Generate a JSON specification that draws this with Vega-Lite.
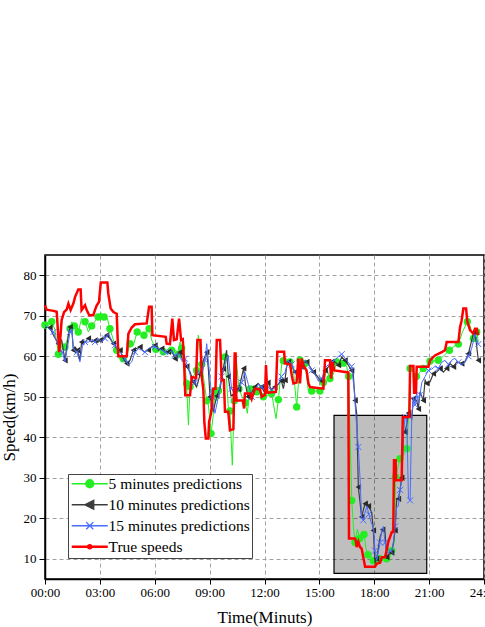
{
"$schema":"https://vega.github.io/schema/vega-lite/v6.json",
"width":439,"height":324,
"autosize":{"type":"none"},
"padding":{"left":45,"top":255,"right":1,"bottom":48},
"background":"white",
"config":{"view":{"stroke":"black","strokeWidth":1.5},"font":"Liberation Serif",
 "axis":{"labelFont":"Liberation Serif","titleFont":"Liberation Serif"},
 "legend":{"labelFont":"Liberation Serif","titleFont":"Liberation Serif"}},
"datasets":{
"T":[{"h":0,"v":72.6},{"h":0.09,"v":71.5},{"h":0.46,"v":71.2},{"h":0.64,"v":71.0},{"h":0.78,"v":61.0},{"h":0.91,"v":68.9},{"h":1.04,"v":70.9},{"h":1.19,"v":71.6},{"h":1.28,"v":73.0},{"h":1.40,"v":71.4},{"h":1.55,"v":73.0},{"h":1.64,"v":74.6},{"h":1.82,"v":76.5},{"h":1.95,"v":76.5},{"h":2.0,"v":71.4},{"h":2.19,"v":72.6},{"h":2.28,"v":71.4},{"h":2.42,"v":70.1},{"h":2.64,"v":70.1},{"h":2.73,"v":71.4},{"h":2.83,"v":72.6},{"h":2.95,"v":73.4},{"h":3.05,"v":78.2},{"h":3.41,"v":78.2},{"h":3.46,"v":75.5},{"h":3.59,"v":71.8},{"h":3.74,"v":70.9},{"h":3.92,"v":70.5},{"h":4.01,"v":60.0},{"h":4.47,"v":60.0},{"h":4.56,"v":65.6},{"h":4.74,"v":67.1},{"h":4.92,"v":67.9},{"h":5.56,"v":68.1},{"h":5.69,"v":72.2},{"h":5.83,"v":72.2},{"h":5.87,"v":65.2},{"h":6.60,"v":64.8},{"h":6.65,"v":63.1},{"h":6.83,"v":63.0},{"h":6.96,"v":69.3},{"h":7.05,"v":64.0},{"h":7.20,"v":64.2},{"h":7.33,"v":69.3},{"h":7.44,"v":64.0},{"h":7.53,"v":64.2},{"h":7.60,"v":59.0},{"h":7.67,"v":50.4},{"h":7.93,"v":50.4},{"h":8.02,"v":54.9},{"h":8.26,"v":54.6},{"h":8.33,"v":64.0},{"h":8.50,"v":64.0},{"h":8.57,"v":54.9},{"h":8.66,"v":51.6},{"h":8.71,"v":43.8},{"h":8.79,"v":39.7},{"h":8.93,"v":39.7},{"h":8.97,"v":43.8},{"h":9.08,"v":45.9},{"h":9.20,"v":52.0},{"h":9.32,"v":52.0},{"h":9.39,"v":64.0},{"h":9.57,"v":64.0},{"h":9.66,"v":54.1},{"h":9.78,"v":54.1},{"h":9.84,"v":46.3},{"h":10.02,"v":46.3},{"h":10.11,"v":41.7},{"h":10.30,"v":42.0},{"h":10.37,"v":60.7},{"h":10.42,"v":60.7},{"h":10.46,"v":49.1},{"h":10.83,"v":49.1},{"h":10.88,"v":47.1},{"h":10.93,"v":50.8},{"h":11.21,"v":50.8},{"h":11.30,"v":49.5},{"h":11.48,"v":52.0},{"h":11.75,"v":51.8},{"h":11.85,"v":50.0},{"h":12.03,"v":50.5},{"h":12.08,"v":57.8},{"h":12.15,"v":51.0},{"h":12.62,"v":51.2},{"h":12.70,"v":61.1},{"h":13.07,"v":61.1},{"h":13.12,"v":58.2},{"h":13.40,"v":58.0},{"h":13.49,"v":55.3},{"h":13.58,"v":53.3},{"h":13.75,"v":53.5},{"h":13.85,"v":59.4},{"h":13.94,"v":53.3},{"h":14.03,"v":59.4},{"h":14.12,"v":57.8},{"h":14.30,"v":56.5},{"h":14.40,"v":53.3},{"h":14.49,"v":52.4},{"h":15.22,"v":52.0},{"h":15.31,"v":59.0},{"h":15.58,"v":59.0},{"h":15.64,"v":54.5},{"h":15.73,"v":58.5},{"h":15.82,"v":56.5},{"h":16.58,"v":56.0},{"h":16.62,"v":15.0},{"h":16.95,"v":15.0},{"h":17.00,"v":14.2},{"h":17.04,"v":12.9},{"h":17.13,"v":14.2},{"h":17.22,"v":12.9},{"h":17.31,"v":12.5},{"h":17.40,"v":10.4},{"h":17.50,"v":8.0},{"h":18.04,"v":8.0},{"h":18.14,"v":8.8},{"h":18.32,"v":9.0},{"h":18.41,"v":10.4},{"h":18.59,"v":10.4},{"h":18.68,"v":12.1},{"h":18.77,"v":14.2},{"h":18.96,"v":16.6},{"h":19.04,"v":16.6},{"h":19.08,"v":34.3},{"h":19.17,"v":34.3},{"h":19.19,"v":29.4},{"h":19.50,"v":29.4},{"h":19.56,"v":45.0},{"h":19.92,"v":45.0},{"h":19.96,"v":57.6},{"h":20.14,"v":57.6},{"h":20.18,"v":51.0},{"h":20.28,"v":51.0},{"h":20.32,"v":57.4},{"h":20.96,"v":57.4},{"h":21.05,"v":59.0},{"h":21.32,"v":60.2},{"h":21.69,"v":61.0},{"h":21.87,"v":61.5},{"h":21.96,"v":63.5},{"h":22.60,"v":63.5},{"h":22.69,"v":67.2},{"h":22.78,"v":68.9},{"h":22.87,"v":71.8},{"h":23.02,"v":71.8},{"h":23.09,"v":68.5},{"h":23.24,"v":66.4},{"h":23.42,"v":65.6},{"h":23.51,"v":66.8},{"h":23.60,"v":66.8},{"h":23.69,"v":65.2}],
"G":[{"h":0,"v":67.7},{"h":0.18,"v":67.7},{"h":0.37,"v":68.5},{"h":0.55,"v":66.5},{"h":0.73,"v":60.5},{"h":0.91,"v":63.5},{"h":1.09,"v":62.3},{"h":1.28,"v":65.2},{"h":1.37,"v":66.8},{"h":1.46,"v":68.5},{"h":1.60,"v":67.5},{"h":1.73,"v":67.8},{"h":1.82,"v":66.0},{"h":2.00,"v":69.3},{"h":2.19,"v":68.5},{"h":2.37,"v":66.0},{"h":2.55,"v":67.5},{"h":2.73,"v":68.6},{"h":2.91,"v":69.7},{"h":3.05,"v":70.8},{"h":3.23,"v":69.7},{"h":3.41,"v":69.3},{"h":3.55,"v":66.8},{"h":3.74,"v":64.0},{"h":3.92,"v":61.5},{"h":4.06,"v":59.4},{"h":4.28,"v":59.4},{"h":4.47,"v":60.2},{"h":4.65,"v":63.1},{"h":4.83,"v":62.7},{"h":5.04,"v":66.0},{"h":5.22,"v":65.6},{"h":5.41,"v":65.2},{"h":5.56,"v":66.4},{"h":5.69,"v":66.8},{"h":5.83,"v":64.0},{"h":6.06,"v":61.7},{"h":6.24,"v":61.5},{"h":6.47,"v":61.1},{"h":6.74,"v":61.1},{"h":6.92,"v":61.5},{"h":7.11,"v":61.5},{"h":7.29,"v":60.5},{"h":7.38,"v":63.5},{"h":7.47,"v":62.0},{"h":7.65,"v":58.0},{"h":7.74,"v":53.3},{"h":7.84,"v":43.0},{"h":7.93,"v":52.5},{"h":8.11,"v":55.0},{"h":8.29,"v":56.5},{"h":8.38,"v":65.2},{"h":8.57,"v":58.0},{"h":8.75,"v":52.0},{"h":8.84,"v":49.0},{"h":8.93,"v":48.0},{"h":9.08,"v":40.9},{"h":9.20,"v":45.5},{"h":9.29,"v":51.5},{"h":9.39,"v":49.0},{"h":9.48,"v":51.5},{"h":9.66,"v":54.5},{"h":9.84,"v":59.8},{"h":10.02,"v":47.5},{"h":10.11,"v":46.5},{"h":10.24,"v":33.1},{"h":10.35,"v":49.0},{"h":10.44,"v":60.2},{"h":10.60,"v":52.0},{"h":10.81,"v":49.6},{"h":10.95,"v":48.5},{"h":11.06,"v":45.9},{"h":11.21,"v":51.9},{"h":11.39,"v":52.8},{"h":11.57,"v":51.2},{"h":11.67,"v":52.4},{"h":11.94,"v":50.0},{"h":12.12,"v":50.3},{"h":12.39,"v":50.8},{"h":12.63,"v":44.6},{"h":12.76,"v":49.3},{"h":12.94,"v":58.0},{"h":13.03,"v":58.9},{"h":13.21,"v":58.6},{"h":13.39,"v":58.6},{"h":13.58,"v":56.5},{"h":13.76,"v":47.5},{"h":13.85,"v":53.0},{"h":13.94,"v":59.0},{"h":14.12,"v":58.6},{"h":14.22,"v":58.2},{"h":14.40,"v":51.4},{"h":14.58,"v":51.4},{"h":14.76,"v":51.4},{"h":15.03,"v":51.4},{"h":15.13,"v":51.8},{"h":15.22,"v":53.5},{"h":15.40,"v":57.0},{"h":15.58,"v":54.5},{"h":15.76,"v":55.5},{"h":15.95,"v":58.6},{"h":16.13,"v":57.5},{"h":16.31,"v":58.3},{"h":16.49,"v":57.5},{"h":16.60,"v":55.0},{"h":16.68,"v":40.0},{"h":16.77,"v":24.4},{"h":16.86,"v":18.0},{"h":16.95,"v":14.0},{"h":17.08,"v":17.3},{"h":17.20,"v":15.0},{"h":17.31,"v":16.0},{"h":17.44,"v":16.0},{"h":17.55,"v":12.5},{"h":17.66,"v":11.0},{"h":17.77,"v":10.4},{"h":17.95,"v":9.5},{"h":18.13,"v":8.8},{"h":18.30,"v":10.0},{"h":18.50,"v":10.4},{"h":18.68,"v":10.0},{"h":18.83,"v":10.0},{"h":18.95,"v":12.0},{"h":19.10,"v":14.2},{"h":19.17,"v":30.2},{"h":19.28,"v":32.3},{"h":19.41,"v":34.7},{"h":19.59,"v":35.5},{"h":19.78,"v":37.2},{"h":19.87,"v":45.0},{"h":19.96,"v":57.0},{"h":20.14,"v":56.0},{"h":20.30,"v":55.0},{"h":20.50,"v":56.1},{"h":20.68,"v":57.0},{"h":20.87,"v":57.8},{"h":21.05,"v":58.8},{"h":21.23,"v":58.8},{"h":21.50,"v":59.0},{"h":21.78,"v":60.0},{"h":22.11,"v":61.5},{"h":22.42,"v":62.6},{"h":22.60,"v":63.0},{"h":22.82,"v":66.0},{"h":23.09,"v":68.5},{"h":23.24,"v":67.5},{"h":23.42,"v":64.4},{"h":23.51,"v":66.0},{"h":23.60,"v":66.0},{"h":23.69,"v":63.5}],
"D":[{"h":0,"v":67.1},{"h":0.27,"v":67.1},{"h":0.46,"v":65.2},{"h":0.73,"v":63.1},{"h":0.91,"v":64.0},{"h":1.09,"v":59.0},{"h":1.28,"v":65.2},{"h":1.37,"v":67.2},{"h":1.46,"v":67.2},{"h":1.55,"v":61.5},{"h":1.64,"v":62.3},{"h":1.77,"v":61.5},{"h":1.91,"v":59.0},{"h":2.00,"v":63.5},{"h":2.19,"v":63.5},{"h":2.37,"v":64.4},{"h":2.55,"v":63.5},{"h":2.73,"v":63.9},{"h":2.91,"v":63.5},{"h":3.01,"v":64.0},{"h":3.19,"v":64.4},{"h":3.37,"v":65.2},{"h":3.55,"v":64.4},{"h":3.74,"v":63.1},{"h":3.92,"v":61.9},{"h":4.10,"v":61.5},{"h":4.28,"v":59.4},{"h":4.47,"v":58.2},{"h":4.65,"v":59.0},{"h":4.83,"v":61.5},{"h":5.01,"v":61.9},{"h":5.19,"v":62.3},{"h":5.41,"v":61.1},{"h":5.65,"v":61.5},{"h":5.83,"v":62.3},{"h":6.01,"v":62.7},{"h":6.20,"v":61.5},{"h":6.38,"v":61.9},{"h":6.56,"v":61.1},{"h":6.74,"v":61.1},{"h":6.92,"v":61.5},{"h":7.11,"v":59.4},{"h":7.25,"v":60.5},{"h":7.38,"v":61.0},{"h":7.56,"v":58.6},{"h":7.75,"v":57.5},{"h":7.93,"v":56.1},{"h":8.11,"v":53.7},{"h":8.29,"v":52.4},{"h":8.48,"v":55.5},{"h":8.66,"v":59.0},{"h":8.84,"v":61.0},{"h":8.93,"v":57.0},{"h":9.02,"v":50.0},{"h":9.20,"v":46.3},{"h":9.39,"v":50.2},{"h":9.57,"v":52.0},{"h":9.75,"v":56.9},{"h":9.93,"v":61.5},{"h":10.02,"v":55.0},{"h":10.17,"v":50.2},{"h":10.30,"v":50.4},{"h":10.45,"v":51.5},{"h":10.58,"v":51.9},{"h":10.73,"v":54.5},{"h":10.86,"v":57.0},{"h":10.96,"v":53.0},{"h":11.10,"v":50.0},{"h":11.28,"v":50.8},{"h":11.46,"v":52.4},{"h":11.65,"v":53.3},{"h":11.83,"v":52.4},{"h":12.01,"v":51.0},{"h":12.19,"v":53.5},{"h":12.37,"v":51.8},{"h":12.56,"v":52.4},{"h":12.74,"v":53.0},{"h":12.92,"v":54.0},{"h":13.03,"v":52.0},{"h":13.12,"v":54.1},{"h":13.21,"v":57.4},{"h":13.31,"v":58.6},{"h":13.49,"v":57.8},{"h":13.67,"v":56.1},{"h":13.85,"v":55.3},{"h":14.03,"v":57.4},{"h":14.12,"v":58.6},{"h":14.31,"v":58.6},{"h":14.49,"v":57.4},{"h":14.67,"v":56.1},{"h":14.85,"v":55.3},{"h":15.04,"v":54.1},{"h":15.22,"v":54.5},{"h":15.31,"v":56.5},{"h":15.49,"v":57.4},{"h":15.67,"v":58.6},{"h":15.85,"v":58.6},{"h":16.04,"v":57.8},{"h":16.22,"v":59.8},{"h":16.40,"v":59.0},{"h":16.58,"v":57.8},{"h":16.76,"v":56.5},{"h":16.85,"v":55.7},{"h":16.95,"v":49.1},{"h":17.04,"v":45.9},{"h":17.13,"v":27.7},{"h":17.22,"v":24.0},{"h":17.31,"v":20.3},{"h":17.40,"v":22.0},{"h":17.50,"v":23.6},{"h":17.59,"v":24.0},{"h":17.68,"v":23.0},{"h":17.86,"v":21.5},{"h":17.95,"v":17.0},{"h":18.04,"v":8.8},{"h":18.13,"v":10.0},{"h":18.32,"v":15.4},{"h":18.46,"v":17.2},{"h":18.59,"v":16.5},{"h":18.68,"v":10.4},{"h":18.77,"v":11.0},{"h":18.95,"v":11.5},{"h":19.05,"v":14.0},{"h":19.14,"v":17.0},{"h":19.23,"v":24.8},{"h":19.32,"v":24.8},{"h":19.41,"v":27.0},{"h":19.50,"v":30.0},{"h":19.59,"v":40.9},{"h":19.68,"v":41.3},{"h":19.77,"v":43.0},{"h":19.87,"v":46.0},{"h":20.05,"v":44.6},{"h":20.14,"v":49.5},{"h":20.32,"v":49.1},{"h":20.41,"v":47.0},{"h":20.50,"v":51.2},{"h":20.68,"v":49.1},{"h":20.78,"v":54.1},{"h":20.87,"v":53.3},{"h":21.05,"v":53.7},{"h":21.23,"v":55.7},{"h":21.41,"v":56.1},{"h":21.60,"v":57.0},{"h":21.78,"v":56.1},{"h":21.96,"v":57.0},{"h":22.14,"v":58.2},{"h":22.33,"v":57.4},{"h":22.51,"v":58.6},{"h":22.78,"v":58.2},{"h":22.96,"v":58.6},{"h":23.15,"v":60.7},{"h":23.33,"v":64.0},{"h":23.45,"v":66.0},{"h":23.56,"v":64.0},{"h":23.69,"v":59.0}],
"B":[{"h":0,"v":67.7},{"h":0.27,"v":66.5},{"h":0.46,"v":66.0},{"h":0.64,"v":63.5},{"h":0.82,"v":62.0},{"h":0.95,"v":61.0},{"h":1.09,"v":58.6},{"h":1.20,"v":61.5},{"h":1.37,"v":66.0},{"h":1.46,"v":66.8},{"h":1.55,"v":62.0},{"h":1.73,"v":61.0},{"h":1.91,"v":58.6},{"h":2.05,"v":62.5},{"h":2.19,"v":63.5},{"h":2.37,"v":63.5},{"h":2.55,"v":64.0},{"h":2.73,"v":63.5},{"h":2.91,"v":64.4},{"h":3.10,"v":63.5},{"h":3.28,"v":64.4},{"h":3.46,"v":65.6},{"h":3.64,"v":64.0},{"h":3.82,"v":62.7},{"h":4.00,"v":61.5},{"h":4.19,"v":60.6},{"h":4.37,"v":59.4},{"h":4.56,"v":57.8},{"h":4.74,"v":58.6},{"h":4.92,"v":61.0},{"h":5.10,"v":61.9},{"h":5.28,"v":61.5},{"h":5.47,"v":61.0},{"h":5.65,"v":61.9},{"h":5.83,"v":62.3},{"h":6.01,"v":62.3},{"h":6.20,"v":62.0},{"h":6.38,"v":61.5},{"h":6.56,"v":61.0},{"h":6.74,"v":60.6},{"h":6.92,"v":61.5},{"h":7.11,"v":60.2},{"h":7.29,"v":60.6},{"h":7.47,"v":59.0},{"h":7.65,"v":59.4},{"h":7.84,"v":57.0},{"h":8.02,"v":54.0},{"h":8.20,"v":53.5},{"h":8.38,"v":56.5},{"h":8.57,"v":55.0},{"h":8.75,"v":59.0},{"h":8.84,"v":63.1},{"h":8.97,"v":57.0},{"h":9.11,"v":50.0},{"h":9.29,"v":45.9},{"h":9.48,"v":50.0},{"h":9.66,"v":55.0},{"h":9.84,"v":58.0},{"h":10.02,"v":60.2},{"h":10.20,"v":52.0},{"h":10.39,"v":50.4},{"h":10.57,"v":51.5},{"h":10.75,"v":53.5},{"h":10.94,"v":56.0},{"h":11.12,"v":53.0},{"h":11.30,"v":50.0},{"h":11.48,"v":51.8},{"h":11.66,"v":53.0},{"h":11.84,"v":52.4},{"h":12.03,"v":51.5},{"h":12.21,"v":52.5},{"h":12.39,"v":51.5},{"h":12.57,"v":52.5},{"h":12.75,"v":53.0},{"h":12.93,"v":55.0},{"h":13.12,"v":56.0},{"h":13.30,"v":59.0},{"h":13.48,"v":58.0},{"h":13.66,"v":56.0},{"h":13.85,"v":54.5},{"h":14.03,"v":57.5},{"h":14.21,"v":59.0},{"h":14.40,"v":58.0},{"h":14.58,"v":56.5},{"h":14.76,"v":55.5},{"h":14.94,"v":54.0},{"h":15.13,"v":54.5},{"h":15.31,"v":57.0},{"h":15.49,"v":58.0},{"h":15.67,"v":58.5},{"h":15.85,"v":59.0},{"h":16.04,"v":60.0},{"h":16.22,"v":60.5},{"h":16.40,"v":59.5},{"h":16.58,"v":58.5},{"h":16.76,"v":57.5},{"h":16.90,"v":52.0},{"h":17.00,"v":45.0},{"h":17.13,"v":37.6},{"h":17.22,"v":30.0},{"h":17.31,"v":20.3},{"h":17.40,"v":19.5},{"h":17.50,"v":21.5},{"h":17.60,"v":23.0},{"h":17.70,"v":21.0},{"h":17.86,"v":18.5},{"h":17.95,"v":18.3},{"h":18.04,"v":12.0},{"h":18.13,"v":9.6},{"h":18.22,"v":11.5},{"h":18.32,"v":14.0},{"h":18.41,"v":17.0},{"h":18.50,"v":18.0},{"h":18.59,"v":14.0},{"h":18.68,"v":11.5},{"h":18.77,"v":11.3},{"h":18.86,"v":12.0},{"h":18.95,"v":11.8},{"h":19.05,"v":14.0},{"h":19.14,"v":18.0},{"h":19.23,"v":22.8},{"h":19.32,"v":23.0},{"h":19.41,"v":27.0},{"h":19.50,"v":29.4},{"h":19.59,"v":40.0},{"h":19.68,"v":45.0},{"h":19.78,"v":44.0},{"h":19.87,"v":25.0},{"h":19.96,"v":24.4},{"h":20.05,"v":45.0},{"h":20.14,"v":50.0},{"h":20.23,"v":48.0},{"h":20.32,"v":51.0},{"h":20.41,"v":48.5},{"h":20.50,"v":50.5},{"h":20.60,"v":53.5},{"h":20.78,"v":55.0},{"h":20.96,"v":56.5},{"h":21.14,"v":56.8},{"h":21.32,"v":57.5},{"h":21.50,"v":57.0},{"h":21.69,"v":58.5},{"h":21.87,"v":59.0},{"h":22.05,"v":58.0},{"h":22.23,"v":59.0},{"h":22.41,"v":59.5},{"h":22.60,"v":58.5},{"h":22.78,"v":58.0},{"h":22.96,"v":58.5},{"h":23.15,"v":60.0},{"h":23.33,"v":62.0},{"h":23.51,"v":65.5},{"h":23.69,"v":63.0}]
},
"layer":[
{"data":{"values":[{"h":15.8,"h2":20.87,"v":6.4,"v2":45.4}]},
 "mark":{"type":"rect","fill":"black","fillOpacity":0.25,"stroke":"black","strokeWidth":1.2,"strokeOpacity":1},
 "encoding":{
  "x":{"field":"h","type":"quantitative","scale":{"domain":[0,24],"nice":false,"zero":false},
   "axis":{"title":"Time(Minuts)","values":[0,1.5,3,4.5,6,7.5,9,10.5,12,13.5,15,16.5,18,19.5,21,22.5,24],
    "labelExpr":"datum.value % 3 === 0 ? (datum.value < 10 ? '0' : '') + datum.value + ':00' : ''",
    "grid":true,"gridDash":[4,3],"gridColor":{"condition":{"test":"datum.value % 3 === 0","value":"#a0a0a0"},"value":"#d0d0d0"},
    "tickSize":5,"tickColor":"black","domainColor":"black","domainWidth":1.5,
    "labelFont":"Liberation Serif","labelFontSize":13,"labelColor":"black","labelPadding":2,"labelFlush":false,"labelOverlap":false,
    "titleFont":"Liberation Serif","titleFontSize":17,"titleFontWeight":"normal","titleColor":"black","titlePadding":10}},
  "x2":{"field":"h2"},
  "y":{"field":"v","type":"quantitative","scale":{"domain":[5,85],"nice":false,"zero":false},
   "axis":{"title":"Speed(km/h)","values":[10,15,20,25,30,35,40,45,50,55,60,65,70,75,80],
    "labelExpr":"datum.value % 10 === 0 ? datum.label : ''",
    "grid":true,"gridDash":[4,3],"gridColor":{"condition":{"test":"datum.value % 10 === 0","value":"#a0a0a0"},"value":"#d0d0d0"},
    "tickSize":{"condition":{"test":"datum.value % 10 === 0","value":6},"value":3},"tickColor":"black","domainColor":"black","domainWidth":1.5,
    "labelFont":"Liberation Serif","labelFontSize":13,"labelColor":"black","labelPadding":3,
    "titleFont":"Liberation Serif","titleFontSize":17,"titleFontWeight":"normal","titleColor":"black","titlePadding":5}},
  "y2":{"field":"v2"}}},
{"data":{"name":"G"},
 "mark":{"type":"line","strokeWidth":1},
 "encoding":{"x":{"field":"h","type":"quantitative"},"y":{"field":"v","type":"quantitative"},
  "color":{"datum":"5","type":"nominal","scale":{"domain":["5","10","15","T"],"range":["#22ee22","#3c3c3c","#4a6cff","#ff0000"]},
   "legend":{"title":null,"orient":"none","legendX":23,"legendY":219,"fillColor":"white","strokeColor":"#444","padding":2,
    "labelFont":"Liberation Serif","labelFontSize":15.5,"labelColor":"black","symbolOffset":12,"labelOffset":11,"rowPadding":4,
    "labelExpr":"datum.value === '5' ? '5 minutes predictions' : datum.value === '10' ? '10 minutes predictions' : datum.value === '15' ? '15 minutes predictions' : 'True speeds'",
    "encode":{"symbols":{"update":{
     "shape":{"signal":"datum.value === '5' ? 'M-18,0H18M-4,0A4,4 0 1,0 4,0A4,4 0 1,0 -4,0Z' : datum.value === '10' ? 'M-18,0H18M-5,0L4,-4.5L4,4.5Z' : datum.value === '15' ? 'M-18,0H18M-3.5,-3.5L3.5,3.5M-3.5,3.5L3.5,-3.5' : 'M-18,0H18M-1.5,0A1.5,1.5 0 1,0 1.5,0A1.5,1.5 0 1,0 -1.5,0Z'"},
     "size":{"value":4},
     "stroke":{"signal":"scale('color', datum.value)"},
     "fill":{"signal":"scale('color', datum.value)"},
     "strokeWidth":{"signal":"datum.value === 'T' ? 2.5 : 1.3"},
     "fillOpacity":{"value":1},"strokeOpacity":{"value":1},"opacity":{"value":1}}}}}}}},
{"data":{"name":"G"},"transform":[{"window":[{"op":"row_number","as":"rn"}]},{"filter":"datum.rn % 2 === 1"}],
 "mark":{"type":"point","shape":"circle","filled":true,"size":55,"color":"#22ee22","opacity":1},
 "encoding":{"x":{"field":"h","type":"quantitative"},"y":{"field":"v","type":"quantitative"}}},
{"data":{"name":"D"},
 "mark":{"type":"line","strokeWidth":1.2},
 "encoding":{"x":{"field":"h","type":"quantitative"},"y":{"field":"v","type":"quantitative"},
  "color":{"datum":"10","type":"nominal","scale":{"domain":["5","10","15","T"],"range":["#22ee22","#3c3c3c","#4a6cff","#ff0000"]}}}},
{"data":{"name":"D"},"transform":[{"window":[{"op":"row_number","as":"rn"}]},{"filter":"datum.rn % 2 === 0"}],
 "mark":{"type":"point","shape":"triangle-left","filled":true,"size":40,"color":"#2a2a2a","opacity":1},
 "encoding":{"x":{"field":"h","type":"quantitative"},"y":{"field":"v","type":"quantitative"}}},
{"data":{"name":"B"},
 "mark":{"type":"line","strokeWidth":1},
 "encoding":{"x":{"field":"h","type":"quantitative"},"y":{"field":"v","type":"quantitative"},
  "color":{"datum":"15","type":"nominal","scale":{"domain":["5","10","15","T"],"range":["#22ee22","#3c3c3c","#4a6cff","#ff0000"]}}}},
{"data":{"name":"B"},"transform":[{"window":[{"op":"row_number","as":"rn"}]},{"filter":"datum.rn % 3 === 0"}],
 "mark":{"type":"point","shape":"M-1,-1L1,1M-1,1L1,-1","filled":false,"size":36,"strokeWidth":1,"color":"#4a6cff","opacity":1},
 "encoding":{"x":{"field":"h","type":"quantitative"},"y":{"field":"v","type":"quantitative"}}},
{"data":{"name":"T"},
 "mark":{"type":"line","strokeWidth":2.5},
 "encoding":{"x":{"field":"h","type":"quantitative"},"y":{"field":"v","type":"quantitative"},
  "color":{"datum":"T","type":"nominal","scale":{"domain":["5","10","15","T"],"range":["#22ee22","#3c3c3c","#4a6cff","#ff0000"]}}}}
]
}
